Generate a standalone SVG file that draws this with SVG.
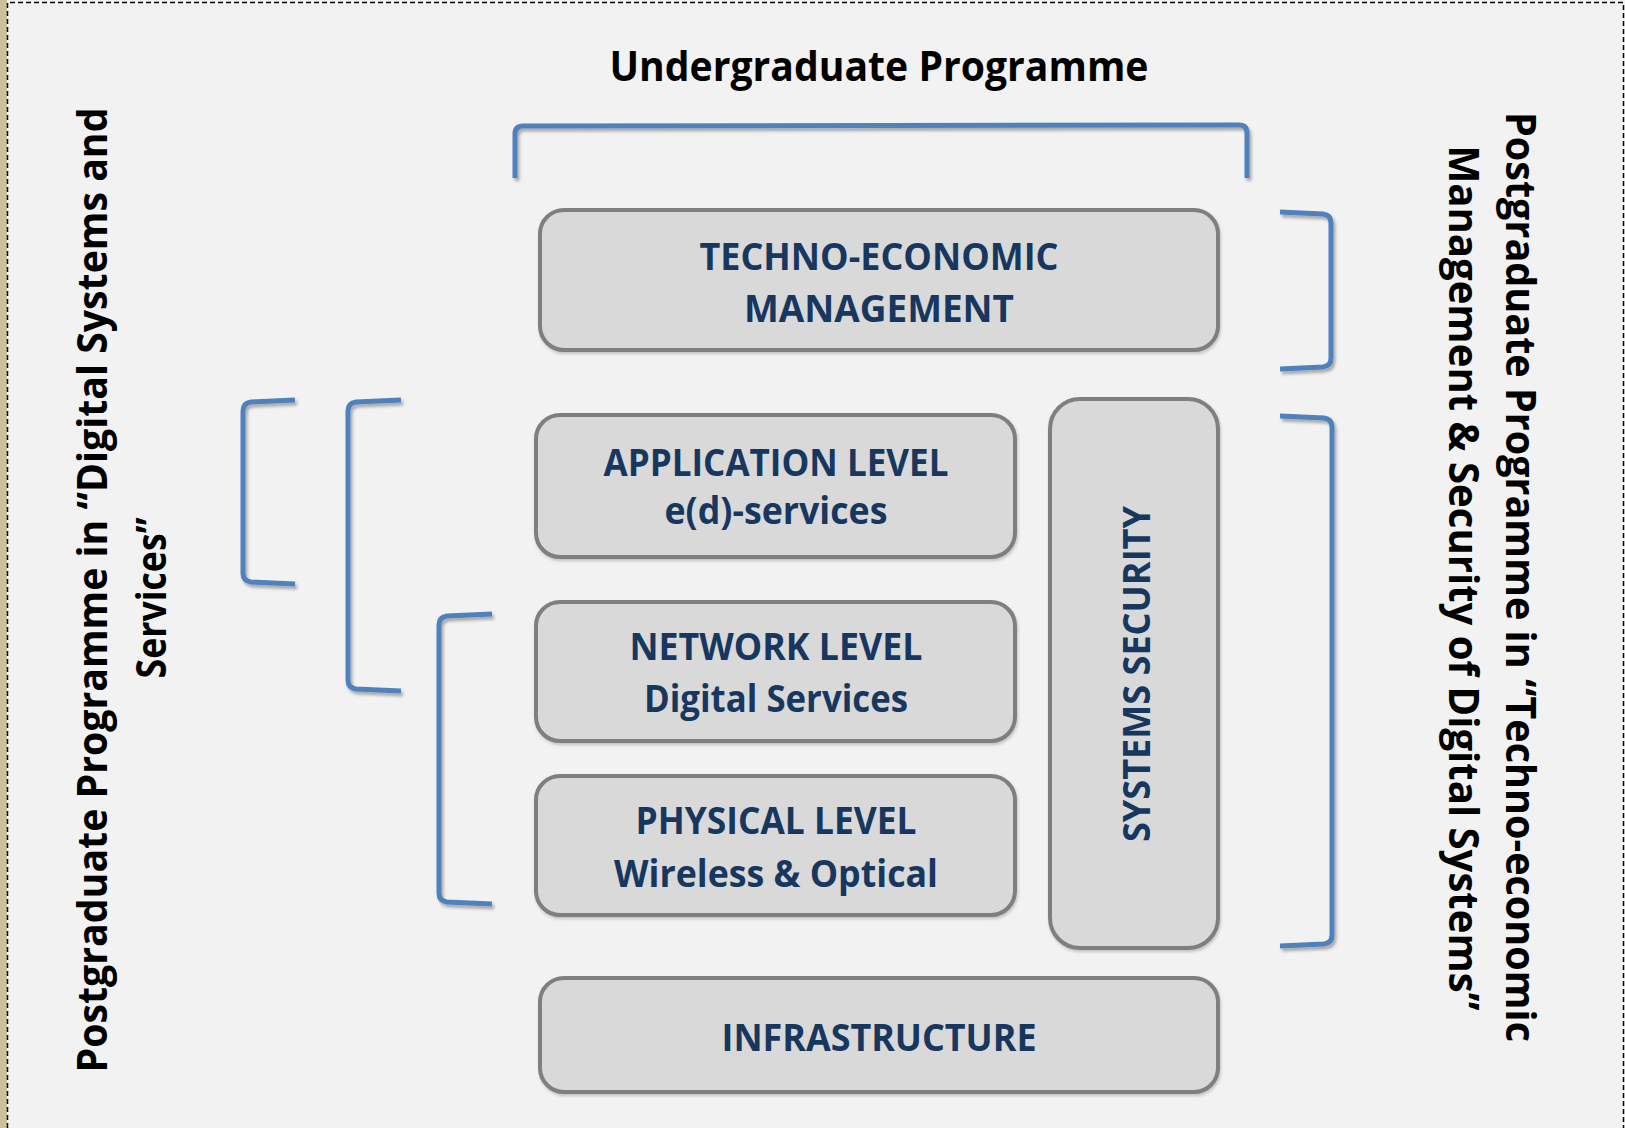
<svg xmlns="http://www.w3.org/2000/svg" width="1625" height="1128" viewBox="0 0 1625 1128">
<defs>
<filter id="sh" x="-20%" y="-20%" width="140%" height="140%">
<feDropShadow dx="2" dy="3" stdDeviation="1.8" flood-color="#000" flood-opacity="0.3"/>
</filter>
<filter id="bsh" x="-5%" y="-5%" width="110%" height="115%">
<feDropShadow dx="1" dy="2" stdDeviation="1.5" flood-color="#000" flood-opacity="0.2"/>
</filter>
<style>
.box{fill:#d9d9d9;stroke:#7f7f7f;stroke-width:4;filter:url(#bsh)}
.bt{font-family:"Open Sans","Liberation Sans",sans-serif;font-weight:bold;font-size:38px;fill:#17375e;text-anchor:middle}
.side{font-family:"Open Sans","Liberation Sans",sans-serif;font-weight:bold;font-size:41px;fill:#000;text-anchor:middle}
.br{fill:none;stroke:#4f81bd;stroke-width:5;stroke-linecap:butt;stroke-linejoin:round;filter:url(#sh)}
</style>
</defs>
<rect x="0" y="0" width="1625" height="1128" fill="#f2f2f2"/>
<rect x="0" y="0" width="7" height="1128" fill="#cdbf98"/>
<path d="M7.5,1128 V2.5 H1623.5 V1128" fill="none" stroke="#000" stroke-width="1.5" stroke-dasharray="5,3"/>

<text class="side" x="879" y="81" font-size="40" textLength="539" lengthAdjust="spacingAndGlyphs">Undergraduate Programme</text>

<g id="connectors">
<path class="br" d="M515,178 V134 Q515,126 523,126 L1239,125 Q1247,125 1247,133 V178"/>
<path class="br" d="M295,400 L251,402 Q243,403 243,411 V573 Q243,581 251,582 L295,584"/>
<path class="br" d="M401,400 L356,402 Q348,403 348,411 V680 Q348,688 356,689 L401,691"/>
<path class="br" d="M492,614 L447,616 Q439,617 439,625 V893 Q439,901 447,902 L492,904"/>
<path class="br" d="M1280,212 L1323,214 Q1331,215 1331,223 V358 Q1331,366 1323,367 L1280,369"/>
<path class="br" d="M1280,416 L1324,418 Q1332,419 1332,427 V935 Q1332,943 1324,944 L1280,946"/>
</g>

<g id="techno">
<rect class="box" x="540" y="210" width="678" height="140" rx="24"/>
<text class="bt" x="879" y="270" textLength="359" lengthAdjust="spacingAndGlyphs">TECHNO-ECONOMIC</text>
<text class="bt" x="879" y="322" textLength="270" lengthAdjust="spacingAndGlyphs">MANAGEMENT</text>
</g>

<g id="application">
<rect class="box" x="536" y="415" width="479" height="142" rx="24"/>
<text class="bt" x="776" y="476" textLength="345" lengthAdjust="spacingAndGlyphs">APPLICATION LEVEL</text>
<text class="bt" x="776" y="524" textLength="223" lengthAdjust="spacingAndGlyphs">e(d)-services</text>
</g>

<g id="network">
<rect class="box" x="536" y="602" width="479" height="139" rx="24"/>
<text class="bt" x="776" y="660" textLength="293" lengthAdjust="spacingAndGlyphs">NETWORK LEVEL</text>
<text class="bt" x="776" y="712" textLength="264" lengthAdjust="spacingAndGlyphs">Digital Services</text>
</g>

<g id="physical">
<rect class="box" x="536" y="776" width="479" height="139" rx="24"/>
<text class="bt" x="776" y="834" textLength="281" lengthAdjust="spacingAndGlyphs">PHYSICAL LEVEL</text>
<text class="bt" x="776" y="887" textLength="324" lengthAdjust="spacingAndGlyphs">Wireless &amp; Optical</text>
</g>

<g id="security">
<rect class="box" x="1050" y="399" width="168" height="549" rx="30"/>
<text class="bt" transform="translate(1150,674) rotate(-90)" x="0" y="0" textLength="336" lengthAdjust="spacingAndGlyphs">SYSTEMS SECURITY</text>
</g>

<g id="infrastructure">
<rect class="box" x="540" y="978" width="678" height="114" rx="24"/>
<text class="bt" x="879" y="1051" textLength="315" lengthAdjust="spacingAndGlyphs">INFRASTRUCTURE</text>
</g>

<g id="left-label">
<text class="side" transform="translate(107,590) rotate(-90)" x="0" y="0" textLength="965" lengthAdjust="spacingAndGlyphs">Postgraduate Programme in “Digital Systems and</text>
<text class="side" transform="translate(166,598) rotate(-90)" x="0" y="0" textLength="161" lengthAdjust="spacingAndGlyphs">Services”</text>
</g>

<g id="right-label">
<text class="side" transform="translate(1506,577) rotate(90)" x="0" y="0" textLength="930" lengthAdjust="spacingAndGlyphs">Postgraduate Programme in “Techno-economic</text>
<text class="side" transform="translate(1449,578) rotate(90)" x="0" y="0" textLength="865" lengthAdjust="spacingAndGlyphs">Management &amp; Security of Digital Systems”</text>
</g>
</svg>
